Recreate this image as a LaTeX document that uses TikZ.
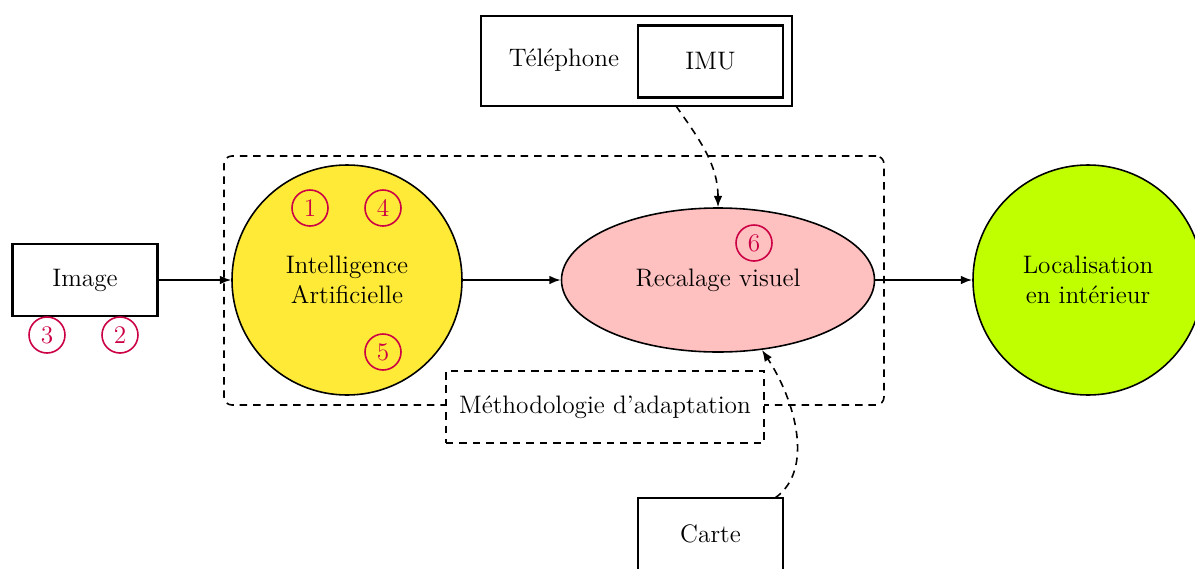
\documentclass[tikz,border=0pt]{standalone}
\usetikzlibrary{arrows.meta,shapes.geometric}
\definecolor{numred}{RGB}{204,0,68}
\definecolor{aiyellow}{RGB}{255,234,56}
\definecolor{recpink}{RGB}{255,192,192}
\definecolor{locgreen}{RGB}{191,255,0}
\begin{document}
\begin{tikzpicture}[x=0.441pt,y=-0.441pt,
  every node/.style={font=\fontsize{11.15pt}{13.4pt}\selectfont},
  box/.style={draw,line width=0.9pt,minimum width={145*0.441pt},minimum height={72*0.441pt},inner sep=0pt},
  num/.style={circle,draw=numred,text=numred,line width=0.7pt,minimum size={36*0.441pt},inner sep=0pt},
  big/.style={circle,draw,line width=0.7pt,minimum size={230*0.441pt},inner sep=0pt,align=center},
  dsh/.style={dash pattern=on 3.3pt off 2.6pt},
  arr/.style={line width=0.7pt,-{Latex[length=5pt,width=3.8pt]}},
  darr/.style={line width=0.7pt,dsh,-{Latex[length=5pt,width=3.8pt]}}
]
\useasboundingbox (0,0) rectangle (1195,568);
% frame
\node[draw,dsh,line width=0.7pt,rounded corners=3.5pt,minimum width={660*0.441pt},minimum height={249*0.441pt},inner sep=0pt] (frame) at (554,280.5) {};
\node[draw,dsh,line width=0.7pt,fill=white,minimum width={318*0.441pt},minimum height={72*0.441pt},inner sep=0pt] (method) at (605,407) {M\'ethodologie d'adaptation};
% boxes
\node[box] (image) at (85,280) {Image};
\node[box,minimum width={311*0.441pt},minimum height={90*0.441pt}] (phone) at (636.5,61) {};
\node at (564,60) (tel) {T\'el\'ephone};
\node[box] (imu) at (710.5,61.5) {IMU};
\node[box] (carte) at (710.5,534) {Carte};
% circles
\node[big,fill=aiyellow] (ai) at (347,280) {Intelligence\\Artificielle};
\node[ellipse,draw,line width=0.7pt,fill=recpink,minimum width={313*0.441pt},minimum height={144*0.441pt},inner sep=0pt] (rec) at (718,280) {Recalage visuel};
\node[big,fill=locgreen] (loc) at (1088,280) {Localisation\\en int\'erieur};
% numbers
\node[num] (n1) at (310,208) {1};
\node[num] (n4) at (383,208) {4};
\node[num] (n5) at (383,352) {5};
\node[num] (n3) at (47,335) {3};
\node[num] (n2) at (120,335) {2};
\node[num] (n6) at (754,243) {6};
% arrows
\draw[arr] (image.east) -- (ai.west);
\draw[arr] (ai.east) -- (rec.west);
\draw[arr] (rec.east) -- (loc.west);
\coordinate (pstart) at (676,106);
\draw[darr] (pstart) .. controls (700,140) and (718,165) .. (rec.north);
\coordinate (cstart) at (775,498);
\coordinate (cend) at (762,350);
\draw[darr] (cstart) .. controls (815,470) and (795,400) .. (cend);
\end{tikzpicture}
\end{document}
